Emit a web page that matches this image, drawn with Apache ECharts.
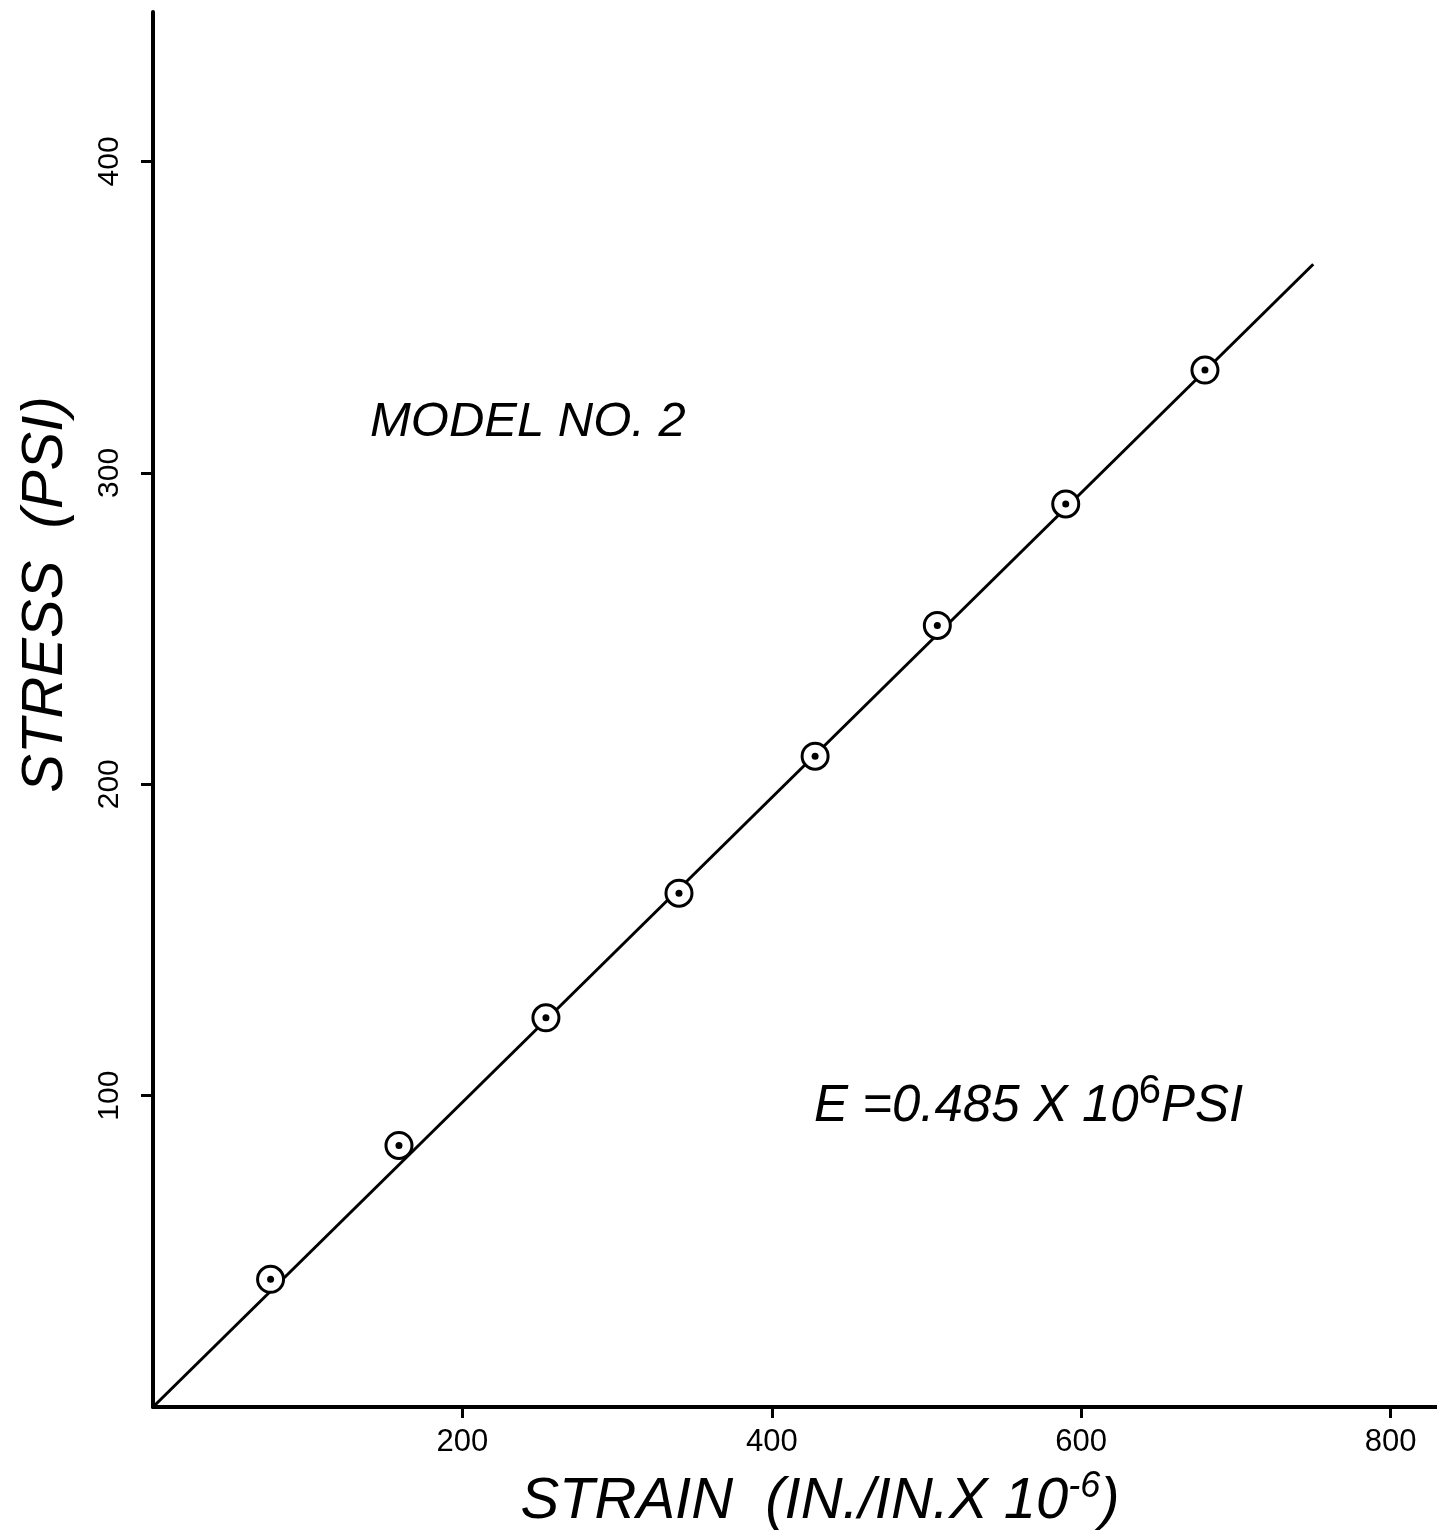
<!DOCTYPE html>
<html>
<head>
<meta charset="utf-8">
<script src="https://cdn.jsdelivr.net/npm/echarts@6/dist/echarts.min.js"></script>
<style>html,body{margin:0;padding:0;background:#fff}#c{width:1437px;height:1532px}</style>
</head>
<body>
<div id="c"></div>
<script>
// Data
var strain = [76, 159, 254, 340, 428, 507, 590, 680];
var stress = [41, 84, 125, 165, 209, 251, 290, 333];
var fitStrain = [0, 750];
var fitStress = [0, 367];
var xTicks = [200, 400, 600, 800];
var yTicks = [100, 200, 300, 400];

var pts = strain.map(function (x, i) { return [x, stress[i]]; });
var fit = fitStrain.map(function (x, i) { return [x, fitStress[i]]; });
var FONT = '"Liberation Sans", "DejaVu Sans", sans-serif';

var chart = echarts.init(document.getElementById('c'), null, {renderer: 'canvas'});
chart.setOption({
  backgroundColor: '#ffffff',
  animation: false,
  grid: {left: 153, right: 0, top: 12, bottom: 125, containLabel: false, outerBoundsMode: 'none'},
  xAxis: {
    type: 'value', min: 0, max: 830,
    name: 'STRAIN  (IN./IN.X 10{sup|-6})',
    nameLocation: 'middle', nameGap: 62,
    nameTextStyle: {fontFamily: FONT, fontSize: 58, fontStyle: 'italic', color: '#000', padding: [0, 0, 0, 50],
      rich: {sup: {fontFamily: FONT, fontSize: 36, color: '#000', verticalAlign: 'top', padding: [0, 0, 30, 0]}}},
    axisLine: {show: true, onZero: false, lineStyle: {color: '#000', width: 4}},
    axisTick: {show: true, inside: false, length: 11, customValues: xTicks, lineStyle: {color: '#000', width: 3}},
    axisLabel: {show: true, customValues: xTicks, margin: 20, fontFamily: FONT, fontSize: 31, color: '#000'},
    splitLine: {show: false}
  },
  yAxis: {
    type: 'value', min: 0, max: 448,
    name: 'STRESS  (PSI)',
    nameLocation: 'middle', nameGap: 78, nameRotate: 90,
    nameTextStyle: {fontFamily: FONT, fontSize: 58, fontStyle: 'italic', color: '#000', padding: [0, 0, 0, 230]},
    axisLine: {show: true, onZero: false, lineStyle: {color: '#000', width: 4}},
    axisTick: {show: true, inside: false, length: 12, customValues: yTicks, lineStyle: {color: '#000', width: 3}},
    axisLabel: {show: true, customValues: yTicks, rotate: 90, margin: 28, fontFamily: FONT, fontSize: 30, color: '#000'},
    splitLine: {show: false}
  },
  graphic: [
    {type: 'text', left: 370, top: 398, style: {text: 'MODEL NO. 2', fontFamily: FONT, fontSize: 49, fontStyle: 'italic', fill: '#000'}},
    {type: 'text', left: 814, top: 1072, style: {
      text: '{a|E =0.485 X 10}{s|6}{a|PSI}', fontFamily: FONT, fill: '#000',
      rich: {a: {fontFamily: FONT, fontSize: 51, fontStyle: 'italic', fill: '#000'},
             s: {fontFamily: FONT, fontSize: 40, fill: '#000', verticalAlign: 'top', padding: [0, 0, 30, 0]}}}}
  ],
  series: [
    {type: 'line', data: fit, symbol: 'none', lineStyle: {color: '#000', width: 3}, z: 2},
    {type: 'scatter', data: pts, symbol: 'circle', symbolSize: 26,
     itemStyle: {color: '#fff', borderColor: '#000', borderWidth: 3, opacity: 1}, z: 3},
    {type: 'scatter', data: pts, symbol: 'circle', symbolSize: 7,
     itemStyle: {color: '#000', opacity: 1}, z: 4}
  ]
});
</script>
</body>
</html>
